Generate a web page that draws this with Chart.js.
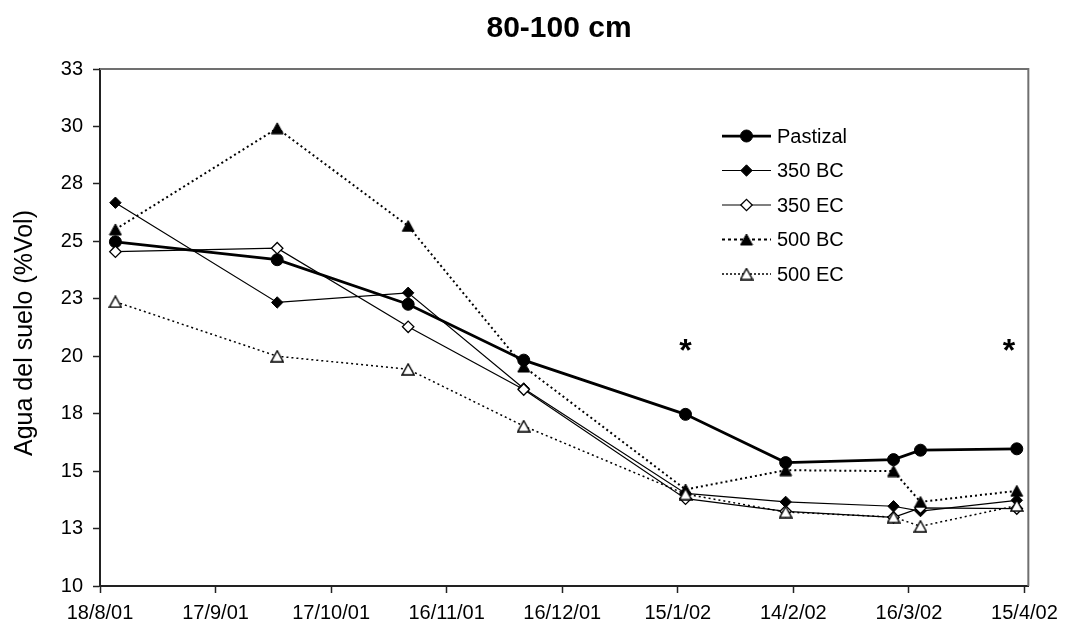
<!DOCTYPE html>
<html>
<head>
<meta charset="utf-8">
<script src="https://cdn.jsdelivr.net/npm/chart.js@4.4.0/dist/chart.umd.min.js"></script>
<style>
html,body{margin:0;padding:0;background:#fff;}
#wrap{width:1066px;height:627px;position:relative;}
canvas{display:block;}
</style>
</head>
<body>
<div id="wrap"><canvas id="c" width="1066" height="627"></canvas></div>
<script>
// ---- data ----
const sampleDates = ['2001-08-22','2001-10-03','2001-11-06','2001-12-06','2002-01-17','2002-02-12','2002-03-12','2002-03-19','2002-04-13'];
const seriesNames = ['Pastizal','350 BC','350 EC','500 BC','500 EC'];
const pastizal = [24.98, 24.20, 22.26, 19.83, 17.47, 15.37, 15.50, 15.91, 15.97];
const bc350    = [26.68, 22.34, 22.76, 18.60, 14.03, 13.66, 13.47, 13.26, 13.73];
const ec350    = [24.55, 24.70, 21.28, 18.55, 13.80, 13.25, 12.99, 13.40, 13.37];
const bc500    = [25.52, 29.92, 25.67, 19.55, 14.20, 15.04, 15.00, 13.66, 14.14];
const ec500    = [22.37, 20.00, 19.43, 16.96, 14.00, 13.22, 13.00, 12.60, 13.50];
const xTickDates  = ['2001-08-18','2001-09-17','2001-10-17','2001-11-16','2001-12-16','2002-01-15','2002-02-14','2002-03-16','2002-04-15'];
const xTickLabels = ['18/8/01','17/9/01','17/10/01','16/11/01','16/12/01','15/1/02','14/2/02','16/3/02','15/4/02'];
const xMinDate = '2001-08-18';
const xMaxDate = '2002-04-16';
const yTickValues = [10, 12.5, 15, 17.5, 20, 22.5, 25, 27.5, 30, 32.5];
const yTickLabels = ['10','13','15','18','20','23','25','28','30','33'];
const titleText = '80-100 cm';
const yTitleText = 'Agua del suelo (%Vol)';
const starDates = ['2002-01-17','2002-04-11'];
const starLevels = [19.8, 19.8];

// ---- helpers ----
const FONT = '"Liberation Sans", Arial, Helvetica, sans-serif';
const day0 = Date.parse(xMinDate);
const toDay = s => (Date.parse(s) - day0) / 86400000;
const sampleDays = sampleDates.map(toDay);
const pts = arr => arr.map((v, i) => ({x: sampleDays[i], y: v}));

function makeTriangle(filled) {
  const c = document.createElement('canvas');
  c.width = 14; c.height = 13;
  const g = c.getContext('2d');
  g.beginPath();
  g.moveTo(7, 1); g.lineTo(13, 12); g.lineTo(1, 12); g.closePath();
  g.fillStyle = filled ? '#000' : '#fff';
  g.fill();
  g.lineWidth = filled ? 1 : 1.4; g.strokeStyle = '#000';
  g.stroke();
  return c;
}
const triFilled = makeTriangle(true);
const triHollow = makeTriangle(false);

const legendStyles = [
  {width: 2.75, dash: []},
  {width: 1.2, dash: []},
  {width: 1.2, dash: []},
  {width: 2, dash: [3, 3]},
  {width: 1.5, dash: [2, 2]}
];

const extras = {
  id: 'extras',
  beforeDatasetsDraw(chart) {
    const {ctx, chartArea: a} = chart;
    ctx.save();
    ctx.strokeStyle = '#707070';
    ctx.lineWidth = 2;
    ctx.beginPath();
    ctx.moveTo(a.left, a.top);
    ctx.lineTo(a.right, a.top);
    ctx.lineTo(a.right, a.bottom);
    ctx.stroke();
    ctx.restore();
  },
  afterDraw(chart) {
    const {ctx, chartArea: a, scales} = chart;
    ctx.save();
    // title
    ctx.fillStyle = '#000';
    ctx.font = 'bold 30px ' + FONT;
    ctx.textAlign = 'center';
    ctx.textBaseline = 'alphabetic';
    ctx.fillText(titleText, 559, 37);
    // y title
    ctx.save();
    ctx.translate(32, 333);
    ctx.rotate(-Math.PI / 2);
    ctx.font = '25px ' + FONT;
    ctx.textAlign = 'center';
    ctx.textBaseline = 'alphabetic';
    ctx.fillText(yTitleText, 0, 0);
    ctx.restore();
    // asterisks
    ctx.font = 'bold 32px ' + FONT;
    ctx.textAlign = 'center';
    ctx.textBaseline = 'alphabetic';
    starDates.forEach((d, i) => {
      ctx.fillText('*', scales.x.getPixelForValue(toDay(d)), scales.y.getPixelForValue(starLevels[i]));
    });
    // legend
    const x1 = 722, x2 = 771, xm = 746.5, xt = 777;
    chart.data.datasets.forEach((ds, i) => {
      const y = 136 + i * 34.5;
      const st = legendStyles[i];
      ctx.save();
      ctx.strokeStyle = '#000';
      ctx.lineWidth = st.width;
      ctx.setLineDash(st.dash);
      ctx.beginPath();
      ctx.moveTo(x1, y); ctx.lineTo(x2, y);
      ctx.stroke();
      ctx.restore();
      ctx.save();
      ctx.fillStyle = ds.pointBackgroundColor;
      ctx.strokeStyle = ds.pointBorderColor;
      ctx.lineWidth = ds.pointBorderWidth;
      Chart.helpers.drawPoint(ctx, {pointStyle: ds.pointStyle, radius: ds.pointRadius, borderWidth: ds.pointBorderWidth, rotation: 0}, xm, y);
      ctx.restore();
      ctx.fillStyle = '#000';
      ctx.font = '20px ' + FONT;
      ctx.textAlign = 'left';
      ctx.textBaseline = 'middle';
      ctx.fillText(ds.label, xt, y + 1);
    });
    ctx.restore();
  }
};

const common = {tension: 0, fill: false, borderColor: '#000', pointBorderColor: '#000'};

new Chart(document.getElementById('c'), {
  type: 'line',
  data: {
    datasets: [
      Object.assign({}, common, {label: seriesNames[0], data: pts(pastizal), borderWidth: 2.75, pointStyle: 'circle', pointRadius: 6, pointBorderWidth: 1, pointBackgroundColor: '#000', backgroundColor: '#000', order: 4}),
      Object.assign({}, common, {label: seriesNames[1], data: pts(bc350), borderWidth: 1.2, pointStyle: 'rectRot', pointRadius: 5.7, pointBorderWidth: 1, pointBackgroundColor: '#000', backgroundColor: '#000', order: 3}),
      Object.assign({}, common, {label: seriesNames[2], data: pts(ec350), borderWidth: 1.2, pointStyle: 'rectRot', pointRadius: 5.7, pointBorderWidth: 1.3, pointBackgroundColor: '#fff', backgroundColor: '#fff', order: 2}),
      Object.assign({}, common, {label: seriesNames[3], data: pts(bc500), borderWidth: 2, borderDash: [2, 3], pointStyle: triFilled, pointRadius: 6, pointBorderWidth: 1, pointBackgroundColor: '#000', backgroundColor: '#000', order: 1}),
      Object.assign({}, common, {label: seriesNames[4], data: pts(ec500), borderWidth: 1.5, borderDash: [2, 3], pointStyle: triHollow, pointRadius: 6, pointBorderWidth: 1, pointBackgroundColor: '#fff', backgroundColor: '#fff', order: 0})
    ]
  },
  options: {
    responsive: false,
    animation: false,
    devicePixelRatio: 1,
    layout: {padding: {left: 0, right: 36, top: 69, bottom: 0}},
    plugins: {legend: {display: false}, title: {display: false}, tooltip: {enabled: false}},
    scales: {
      x: {
        type: 'linear',
        min: 0,
        max: toDay(xMaxDate),
        afterBuildTicks: s => { s.ticks = xTickDates.map(d => ({value: toDay(d)})); },
        afterFit: s => { s.height = 41; },
        ticks: {autoSkip: false, maxRotation: 0, padding: 8, color: '#000', font: {family: FONT, size: 20},
                callback: (v, i) => xTickLabels[i]},
        grid: {display: true, drawOnChartArea: false, drawTicks: true, tickLength: 7, tickColor: '#222', tickWidth: 1.5},
        border: {display: true, color: '#222', width: 2}
      },
      y: {
        type: 'linear',
        min: 10,
        max: 32.5,
        afterBuildTicks: s => { s.ticks = yTickValues.map(v => ({value: v})); },
        afterFit: s => { s.width = 100; },
        ticks: {padding: 10, color: '#000', font: {family: FONT, size: 20},
                callback: (v, i) => yTickLabels[i]},
        grid: {display: true, drawOnChartArea: false, drawTicks: true, tickLength: 7, tickColor: '#222', tickWidth: 1.5},
        border: {display: true, color: '#222', width: 2}
      }
    }
  },
  plugins: [extras]
});
</script>
</body>
</html>
